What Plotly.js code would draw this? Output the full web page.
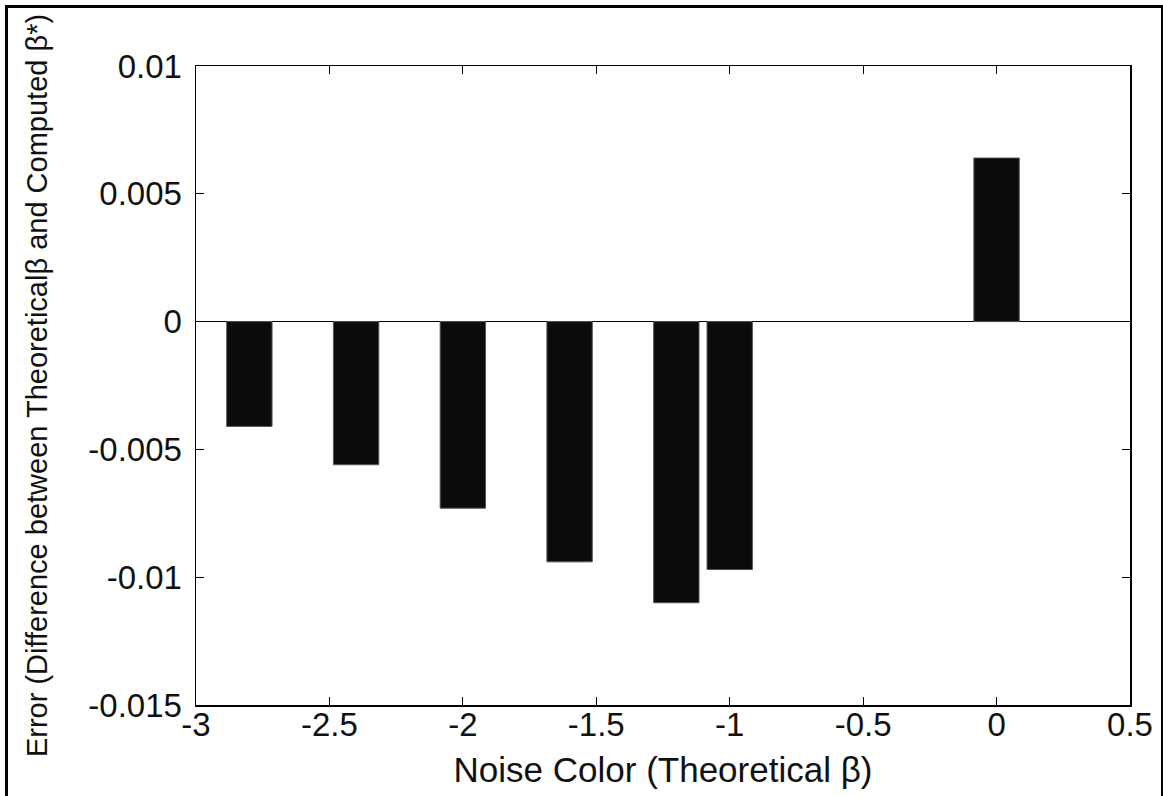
<!DOCTYPE html>
<html>
<head>
<meta charset="utf-8">
<script src="https://cdn.plot.ly/plotly-3.0.1.min.js"></script>
<style>
  html, body { margin: 0; padding: 0; background: #fff; }
  #plot { position: absolute; left: 0; top: 0; width: 1163px; height: 796px; }
  #frame { position: absolute; left: 5px; top: 5px; width: 1153px; height: 800px;
           border: 3px solid #000; border-bottom: none; pointer-events: none; }
</style>
</head>
<body>
<div id="plot"></div>
<div id="frame"></div>
<script>
// Data
const noiseColor = [-2.8, -2.4, -2.0, -1.6, -1.2, -1.0, 0.0];
const errorValues = [-0.0041, -0.0056, -0.0073, -0.0094, -0.0110, -0.0097, 0.0064];

const xTickVals = [-3, -2.5, -2, -1.5, -1, -0.5, 0, 0.5];
const xTickText = ['-3', '-2.5', '-2', '-1.5', '-1', '-0.5', '0', '0.5'];
const yTickVals = [-0.015, -0.01, -0.005, 0, 0.005, 0.01];
const yTickText = ['-0.015', '-0.01', '-0.005', '0', '0.005', '0.01'];

const xTitle = 'Noise Color (Theoretical β)';
const yTitle = 'Error (Difference between Theoreticalβ and Computed β*)';

const fontFamily = '"Liberation Sans", Arial, Helvetica, sans-serif';

const trace = {
  type: 'bar',
  x: noiseColor,
  y: errorValues,
  width: 0.17,
  marker: { color: '#0b0b0b', line: { color: '#555', width: 1 } },
  hoverinfo: 'x+y'
};

const layout = {
  width: 1163,
  height: 796,
  margin: { l: 196, r: 33, t: 66, b: 91, pad: 0 },
  paper_bgcolor: '#fff',
  plot_bgcolor: '#fff',
  showlegend: false,
  font: { family: fontFamily, color: '#111' },
  xaxis: {
    range: [-3, 0.5],
    tickmode: 'array',
    tickvals: xTickVals,
    ticktext: xTickText,
    ticks: 'inside',
    ticklen: 8,
    tickwidth: 1,
    tickcolor: '#000',
    showline: true,
    linecolor: '#000',
    linewidth: 1.5,
    mirror: 'ticks',
    showgrid: false,
    zeroline: false,
    automargin: false,
    ticklabelstandoff: -10,
    tickfont: { size: 33, family: fontFamily, color: '#111' },
    title: { text: xTitle, font: { size: 35, family: fontFamily, color: '#111' }, standoff: 15 }
  },
  yaxis: {
    range: [-0.015, 0.01],
    tickmode: 'array',
    tickvals: yTickVals,
    ticktext: yTickText,
    ticks: 'inside',
    ticklen: 8,
    tickwidth: 1,
    tickcolor: '#000',
    showline: true,
    linecolor: '#000',
    linewidth: 1.5,
    mirror: 'ticks',
    showgrid: false,
    zeroline: true,
    zerolinecolor: '#000',
    zerolinewidth: 1,
    automargin: false,
    ticklabelstandoff: 6,
    tickfont: { size: 33, family: fontFamily, color: '#111' },
    title: { text: yTitle, font: { size: 29, family: fontFamily, color: '#111' }, standoff: 32 }
  }
};

Plotly.newPlot('plot', [trace], layout, { displayModeBar: false, staticPlot: true });
</script>
</body>
</html>
